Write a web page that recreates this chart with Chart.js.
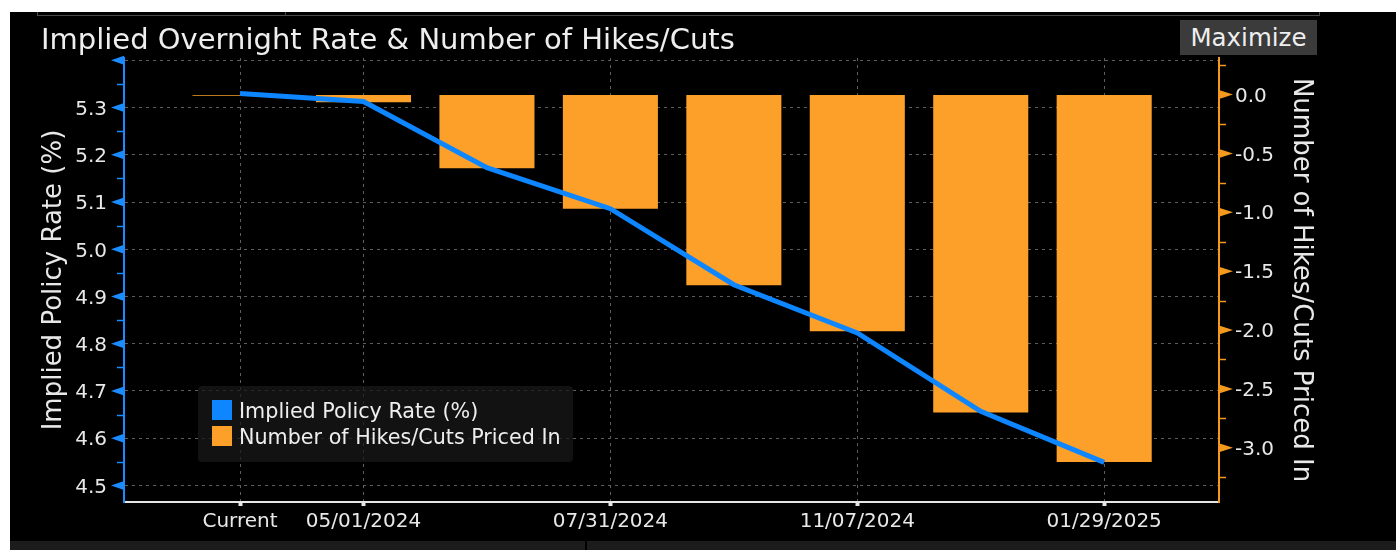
<!DOCTYPE html>
<html><head><meta charset="utf-8">
<script src="https://cdn.jsdelivr.net/npm/chart.js@4.4.1/dist/chart.umd.min.js"></script>
<style>
html,body{margin:0;padding:0;background:#fff;width:1396px;height:550px;overflow:hidden;font-family:"DejaVu Sans",sans-serif;}
#frame{position:absolute;left:10px;top:12px;width:1386px;height:538px;background:#000;}
#tabs{position:absolute;left:37px;top:12px;width:1281px;height:3px;border:1px solid #4a4a4a;border-top:none;}
#tabdiv{position:absolute;left:285px;top:12px;width:1px;height:4px;background:#4a4a4a;}
#bottom{position:absolute;left:10px;top:541px;width:1386px;height:9px;background:#1c1c1c;}
#bottomdiv{position:absolute;left:585px;top:541px;width:2px;height:9px;background:#000;}
#title{position:absolute;left:41px;top:21px;color:#eee;font-size:29px;line-height:36px;white-space:nowrap;}
#max{position:absolute;left:1180px;top:20px;width:137px;height:35px;background:#3b3b3b;color:#eee;font-size:24.5px;line-height:35px;text-align:center;}
#wrap{position:absolute;left:0;top:0;width:1396px;height:550px;}
#legend{position:absolute;left:198px;top:386px;width:375px;height:76px;background:rgba(24,24,24,0.75);border-radius:4px;}
.li{position:absolute;left:14px;height:26px;line-height:26px;color:#eee;font-size:20.7px;white-space:nowrap;}
.sw{display:inline-block;width:20px;height:20px;vertical-align:middle;margin-right:7px;position:relative;top:-2px;}
</style></head>
<body>
<div id="frame"></div>
<div id="tabs"></div><div id="tabdiv"></div>
<div id="bottom"></div><div id="bottomdiv"></div>
<div id="wrap"><canvas id="c" width="1396" height="550"></canvas></div>
<div id="title">Implied Overnight Rate &amp; Number of Hikes/Cuts</div>
<div id="max">Maximize</div>
<div id="legend"></div>
<script>
const categories = ['Current','05/01/2024','06/12/2024','07/31/2024','09/18/2024','11/07/2024','12/18/2024','01/29/2025'];
const tickLabels = ['Current','05/01/2024','','07/31/2024','','11/07/2024','','01/29/2025'];
const impliedRate = [5.330, 5.313, 5.173, 5.086, 4.925, 4.823, 4.657, 4.549];
const hikesCuts = [-0.01, -0.066, -0.626, -0.97, -1.62, -2.01, -2.70, -3.12];
const seriesNames = ['Implied Policy Rate (%)', 'Number of Hikes/Cuts Priced In'];

const BLUE = '#0d86ff', ORANGE = '#fca02a', BLUE_AX = '#1a8cff', ORANGE_AX = '#f39a1e';
const FONT = "'DejaVu Sans',sans-serif";
Chart.defaults.font.family = FONT;

const axisMarks = {
  id: 'axisMarks',
  afterDraw(chart) {
    const ctx = chart.ctx, y = chart.scales.y, y1 = chart.scales.y1;
    ctx.save();
    ctx.fillStyle = BLUE_AX; ctx.strokeStyle = BLUE_AX; ctx.lineWidth = 1.5;
    y.ticks.forEach(t => {
      const p = y.getPixelForValue(t.value);
      ctx.beginPath(); ctx.moveTo(y.right, p - 4.5); ctx.lineTo(y.right - 13, p); ctx.lineTo(y.right, p + 4.5); ctx.closePath(); ctx.fill();
    });
    for (let k = Math.ceil(y.min / 0.05); k * 0.05 <= y.max; k++) {
      if (k % 2 === 0) continue;
      const p = Math.round(y.getPixelForValue(k * 0.05)) + 0.5;
      ctx.beginPath(); ctx.moveTo(y.right - 7, p); ctx.lineTo(y.right, p); ctx.stroke();
    }
    ctx.fillStyle = ORANGE_AX; ctx.strokeStyle = ORANGE_AX;
    y1.ticks.forEach(t => {
      const p = y1.getPixelForValue(t.value);
      ctx.beginPath(); ctx.moveTo(y1.left, p - 4.5); ctx.lineTo(y1.left + 14, p); ctx.lineTo(y1.left, p + 4.5); ctx.closePath(); ctx.fill();
    });
    for (let k = Math.ceil(y1.min / 0.25); k * 0.25 <= y1.max; k++) {
      if (k % 2 === 0) continue;
      const p = Math.round(y1.getPixelForValue(k * 0.25)) + 0.5;
      ctx.beginPath(); ctx.moveTo(y1.left, p); ctx.lineTo(y1.left + 7, p); ctx.stroke();
    }
    ctx.restore();
  }
};

const chart = new Chart(document.getElementById('c'), {
  type: 'bar',
  data: {
    datasets: [
      { type: 'line', label: seriesNames[0], data: categories.map((c, i) => ({x: i, y: impliedRate[i]})),
        borderColor: BLUE, backgroundColor: BLUE, borderWidth: 5, pointRadius: 0, tension: 0, yAxisID: 'y', order: 0 },
      { type: 'bar', label: seriesNames[1], data: categories.map((c, i) => ({x: i, y: hikesCuts[i]})),
        backgroundColor: ORANGE, borderWidth: 0, barPercentage: 0.77, categoryPercentage: 1, yAxisID: 'y1', order: 1 }
    ]
  },
  options: {
    responsive: false, animation: false,
    layout: { padding: { top: 58, left: 0, right: 0, bottom: 0 } },
    plugins: { legend: { display: false }, tooltip: { enabled: false }, title: { display: false } },
    scales: {
      x: {
        type: 'linear', position: 'bottom', min: -0.94, max: 7.93, offset: false,
        grid: { offset: false, color: c => (c.tick && tickLabels[c.tick.value]) ? '#5e5e5e' : 'transparent', lineWidth: 1,
                drawTicks: true, tickLength: 4, tickWidth: 4,
                tickColor: c => (c.tick && tickLabels[c.tick.value]) ? '#e6e6e6' : 'transparent', tickBorderDash: [] },
        border: { color: '#e6e6e6', width: 2, dash: [3, 4] },
        ticks: { stepSize: 1, autoSkip: false, includeBounds: false, maxRotation: 0, maxTicksLimit: 20,
                 color: '#e8e8e8', font: { size: 20 }, padding: 4,
                 callback: v => tickLabels[v] || '' },
        afterFit: s => { s.height = 48; }
      },
      y: {
        position: 'left', min: 4.465, max: 5.405,
        grid: { color: '#5e5e5e', lineWidth: 1, drawTicks: false },
        border: { color: BLUE_AX, width: 2, dash: [3, 4] },
        ticks: { stepSize: 0.1, includeBounds: false, maxTicksLimit: 20, color: '#e8e8e8', font: { size: 20 }, padding: 17, labelOffset: 2,
                 callback: v => v > 5.35 ? '' : v.toFixed(1) },
        title: { display: true, text: 'Implied Policy Rate (%)', color: '#e8e8e8', font: { size: 26 }, padding: { top: 39, bottom: 0 } },
        afterFit: s => { s.width = 124; }
      },
      y1: {
        position: 'right', min: -3.46, max: 0.31,
        grid: { drawOnChartArea: false, drawTicks: false },
        border: { color: ORANGE_AX, width: 2 },
        ticks: { stepSize: 0.5, includeBounds: false, maxTicksLimit: 20, color: '#e8e8e8', font: { size: 20 }, padding: 16, labelOffset: 2,
                 callback: v => v.toFixed(1) },
        title: { display: true, text: 'Number of Hikes/Cuts Priced In', color: '#e8e8e8', font: { size: 26 }, padding: { top: 80, bottom: 0 } },
        afterFit: s => { s.width = 177; }
      }
    }
  },
  plugins: [axisMarks]
});

const lg = document.getElementById('legend');
chart.data.datasets.forEach((d, i) => {
  const row = document.createElement('div');
  row.className = 'li'; row.style.top = (12 + i * 26) + 'px';
  const sw = document.createElement('span'); sw.className = 'sw'; sw.style.background = d.backgroundColor;
  row.appendChild(sw); row.appendChild(document.createTextNode(d.label));
  lg.appendChild(row);
});
</script>
</body></html>
